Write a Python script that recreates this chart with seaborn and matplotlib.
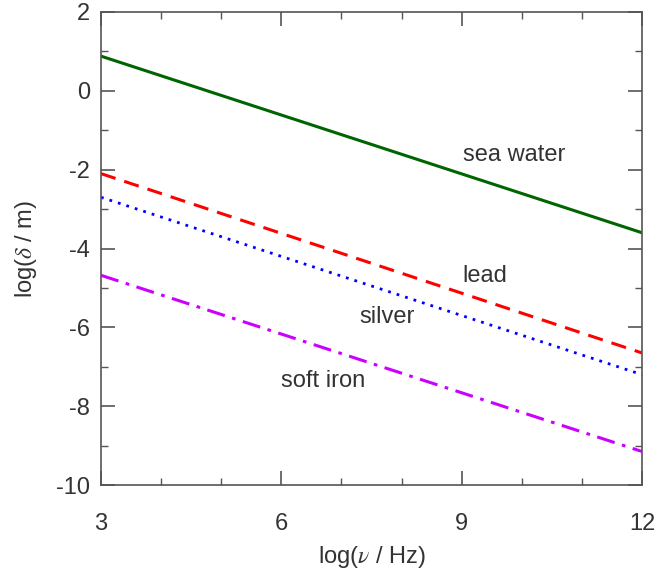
import pandas as pd
import seaborn as sns
import matplotlib.pyplot as plt
from matplotlib.ticker import MultipleLocator

# log10 frequency endpoints and skin depth values
log_freq = [3, 12]
sea_water = [0.88, -3.6]
lead = [-2.1, -6.65]
silver = [-2.7, -7.2]
soft_iron = [-4.68, -9.15]

materials = ['sea water', 'lead', 'silver', 'soft iron']
colors = ['#006400', '#ff0000', '#0000ff', '#cc00ff']
styles = ['-', (0, (5, 3)), (0, (1, 2.2)), (0, (6, 2.5, 1.2, 2.5))]
label_pos = {'sea water': (9.87, -1.63), 'lead': (9.39, -4.7),
             'silver': (7.76, -5.75), 'soft iron': (6.69, -7.35)}

df = pd.DataFrame({
    'logf': log_freq * 4,
    'logd': sea_water + lead + silver + soft_iron,
    'material': [m for m in materials for _ in log_freq],
})

sns.set_style('ticks')
plt.rcParams['font.family'] = ['Liberation Sans', 'DejaVu Sans']
plt.rcParams['mathtext.fontset'] = 'stix'
plt.rcParams['axes.unicode_minus'] = False
text_col = '#333333'
fs = 17

fig = plt.figure(figsize=(6.57, 5.72), dpi=100)
ax = fig.add_axes([101 / 657, 1 - 485 / 572, 541 / 657, 473 / 572])

for m, c, ls in zip(materials, colors, styles):
    sub = df[df['material'] == m]
    lw = 2.2 if ls != styles[2] else 2.0
    sns.lineplot(data=sub, x='logf', y='logd', ax=ax, color=c, linewidth=lw)
    ax.lines[-1].set_linestyle(ls)

for m in materials:
    x, y = label_pos[m]
    ax.text(x, y, m, ha='center', va='center', fontsize=fs, color=text_col)

ax.set_xlim(3, 12)
ax.set_ylim(-10, 2)
ax.xaxis.set_major_locator(MultipleLocator(3))
ax.xaxis.set_minor_locator(MultipleLocator(1))
ax.yaxis.set_major_locator(MultipleLocator(2))
ax.yaxis.set_minor_locator(MultipleLocator(1))
ax.tick_params(which='both', direction='in', top=True, right=True,
               colors='#555555', labelcolor=text_col, labelsize=fs)
ax.tick_params(which='major', length=10, width=1.2, pad=8)
ax.tick_params(which='minor', length=5, width=1.0)
ax.tick_params(axis='x', which='major', pad=20)
for s in ax.spines.values():
    s.set_color('#555555')
    s.set_linewidth(1.2)

ax.set_xlabel(r'log($\nu$ / Hz)', fontsize=fs, color=text_col, labelpad=7)
ax.set_ylabel(r'log($\delta$ / m)', fontsize=fs, color=text_col, labelpad=12)

fig.savefig('out.png', dpi=100)
